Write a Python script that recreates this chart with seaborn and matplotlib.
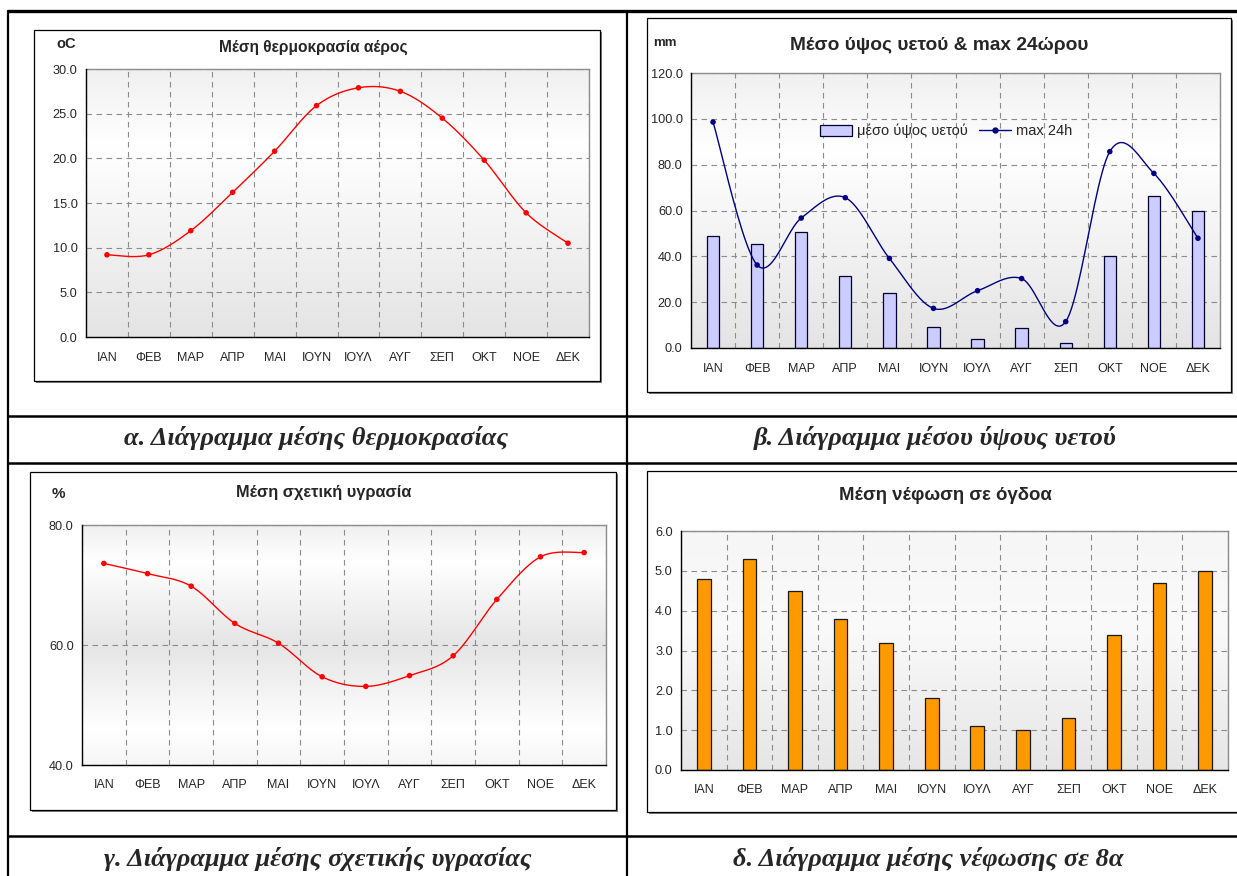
import numpy as np
import matplotlib
matplotlib.use("Agg")
import matplotlib.pyplot as plt
from matplotlib.colors import LinearSegmentedColormap
from matplotlib.patches import Rectangle
from matplotlib.lines import Line2D
import seaborn as sns

# ---- data ---------------------------------------------------------------
months = ["ΙΑΝ", "ΦΕΒ", "ΜΑΡ", "ΑΠΡ", "ΜΑΙ", "ΙΟΥΝ", "ΙΟΥΛ", "ΑΥΓ", "ΣΕΠ", "ΟΚΤ", "ΝΟΕ", "ΔΕΚ"]
temperature = [9.2, 9.2, 11.9, 16.2, 20.8, 25.9, 27.9, 27.5, 24.5, 19.8, 13.9, 10.5]
rain_mean = [48.7, 45.2, 50.6, 31.3, 24.1, 9.3, 4.1, 8.7, 2.3, 40.0, 66.5, 60.0]
rain_max24 = [98.6, 36.2, 56.7, 65.6, 39.1, 17.3, 25.0, 30.3, 11.5, 85.7, 76.2, 47.9]
humidity = [73.6, 71.9, 69.8, 63.6, 60.3, 54.7, 53.1, 54.9, 58.2, 67.6, 74.7, 75.4]
cloud = [4.8, 5.3, 4.5, 3.8, 3.2, 1.8, 1.1, 1.0, 1.3, 3.4, 4.7, 5.0]

temp_ticks = [0, 5, 10, 15, 20, 25, 30]
rain_ticks = [0, 20, 40, 60, 80, 100, 120]
hum_ticks = [40, 60, 80]
cloud_ticks = [0, 1, 2, 3, 4, 5, 6]

captions = ["α. Διάγραμμα μέσης θερμοκρασίας", "β. Διάγραμμα μέσου ύψους υετού",
            "γ. Διάγραμμα μέσης σχετικής υγρασίας", "δ. Διάγραμμα μέσης νέφωσης σε 8α"]

# ---- style ----------------------------------------------------------------
sns.set_style("white")
plt.rcParams["font.family"] = ["Liberation Sans", "DejaVu Sans"]

W, H = 1237, 876
fig = plt.figure(figsize=(W / 100, H / 100), dpi=100)
fig.patch.set_facecolor("white")


def frac_rect(l, t, r, b):
    return [l / W, 1 - b / H, (r - l) / W, (b - t) / H]


def fx(x):
    return x / W


def fy(y):
    return 1 - y / H


def smooth(values, n=24):
    """Cubic Bezier smoothing through the points (Catmull-Rom tangents)."""
    y = np.asarray(values, float)
    P = np.column_stack([np.arange(len(y), dtype=float), y])
    Pe = np.vstack([P[0], P, P[-1]])
    t = np.linspace(0, 1, n)[:, None]
    out = []
    for i in range(len(P) - 1):
        p0, p1, p2, p3 = Pe[i], Pe[i + 1], Pe[i + 2], Pe[i + 3]
        c1 = p1 + (p2 - p0) / 6
        c2 = p2 - (p3 - p1) / 6
        seg = (1 - t) ** 3 * p1 + 3 * (1 - t) ** 2 * t * c1 + 3 * (1 - t) * t ** 2 * c2 + t ** 3 * p2
        out.append(seg if i == 0 else seg[1:])
    return np.vstack(out)


def chart_box(l, t, r, b):
    shadow = Rectangle((fx(l) + 2 / W, fy(b) - 2 / H), (r - l) / W, (b - t) / H,
                       transform=fig.transFigure, facecolor="#7f7f7f", edgecolor="none", zorder=-3)
    box = Rectangle((fx(l), fy(b)), (r - l) / W, (b - t) / H, transform=fig.transFigure,
                    facecolor="white", edgecolor="black", linewidth=0.9, zorder=-2)
    fig.add_artist(shadow)
    fig.add_artist(box)


def make_axes(rect, stops):
    bg = fig.add_axes(rect)
    bg.set_zorder(-1)
    cmap = LinearSegmentedColormap.from_list("bg", stops)
    grad = np.linspace(0, 1, 256)[:, None]
    bg.imshow(grad, cmap=cmap, aspect="auto", origin="lower", extent=[0, 1, 0, 1])
    bg.set_axis_off()
    ax = fig.add_axes(rect)
    ax.set_facecolor("none")
    return ax


def style_axes(ax, ticks, fmt="{:.1f}", xlabel_pad=8):
    ax.set_xlim(-0.5, 11.5)
    ax.set_ylim(ticks[0], ticks[-1])
    ax.set_yticks(ticks)
    ax.set_yticklabels([fmt.format(v) for v in ticks], fontsize=9.2)
    ax.set_xticks(range(12))
    ax.set_xticklabels(months, fontsize=9)
    ax.set_xticks(np.arange(-0.5, 12, 1), minor=True)
    ax.tick_params(axis="x", which="major", length=0, pad=xlabel_pad)
    ax.tick_params(axis="x", which="minor", length=4, width=0.8, direction="out", color="black")
    ax.tick_params(axis="y", which="major", length=4, width=0.8, direction="out", color="black", pad=2)
    dash = (0, (5, 4))
    ax.yaxis.grid(True, which="major", linestyle=dash, color="#8c8c8c", linewidth=0.8)
    ax.xaxis.grid(True, which="minor", linestyle=dash, color="#8c8c8c", linewidth=0.8)
    ax.xaxis.grid(False, which="major")
    ax.set_axisbelow(True)
    for side in ("top", "right"):
        ax.spines[side].set_color("#8c8c8c")
        ax.spines[side].set_linewidth(1.0)
    for side in ("left", "bottom"):
        ax.spines[side].set_color("black")
        ax.spines[side].set_linewidth(1.0)
        ax.spines[side].set_zorder(5)
    ax.set_xlabel("")
    ax.set_ylabel("")


# ---- table frame -----------------------------------------------------------
def hline(y, x0=8, x1=W, lw=1.8):
    fig.add_artist(Line2D([fx(x0), fx(x1)], [fy(y), fy(y)], transform=fig.transFigure,
                          color="black", linewidth=lw, zorder=-4))


def vline(x, y0=11, y1=H, lw=1.6):
    fig.add_artist(Line2D([fx(x), fx(x)], [fy(y0), fy(y1)], transform=fig.transFigure,
                          color="black", linewidth=lw, zorder=-4))


hline(11, lw=2.4)
hline(416)
hline(463)
hline(836)
vline(8)
vline(627)

# ---- chart boxes -----------------------------------------------------------
chart_box(34, 30, 600, 381)
chart_box(647, 18, 1231, 392)
chart_box(30, 472, 616, 810)
chart_box(647, 471, 1240, 812)

gray_top = [(0.0, "#e4e4e4"), (0.72, "#ffffff"), (1.0, "#f0f0f0")]
gray_bottom = [(0.0, "#e6e6e6"), (0.6, "#fafafa"), (1.0, "#f6f6f6")]
band = [(0.0, "#f6f6f6"), (0.15, "#ffffff"), (0.5, "#e5e5e5"), (0.85, "#ffffff"), (1.0, "#f0f0f0")]

red = "#ff0000"
navy = "#000080"

# (a) mean air temperature
ax_a = make_axes(frac_rect(86, 69, 589, 337), gray_top)
sm = smooth(temperature)
sns.lineplot(x=sm[:, 0], y=sm[:, 1], sort=False, estimator=None, color=red, linewidth=1.0, ax=ax_a)
sns.scatterplot(x=np.arange(12), y=temperature, color=red, s=16, edgecolor="none", ax=ax_a, zorder=4)
style_axes(ax_a, temp_ticks, xlabel_pad=11)
fig.text(fx(313), fy(47), "Μέση θερμοκρασία αέρος", ha="center", va="center", fontsize=11.2, fontweight="bold")
fig.text(fx(66), fy(44), "oC", ha="center", va="center", fontsize=10.5, fontweight="bold")

# (b) mean precipitation and 24h maximum
ax_b = make_axes(frac_rect(691, 73, 1220, 348), gray_top)
sns.barplot(x=months, y=rain_mean, color="#ccccff", edgecolor="#000033", linewidth=0.9,
            width=0.28, saturation=1, ax=ax_b, zorder=3)
sm = smooth(rain_max24)
sns.lineplot(x=sm[:, 0], y=sm[:, 1], sort=False, estimator=None, color=navy, linewidth=1.0, ax=ax_b, zorder=4)
sns.scatterplot(x=np.arange(12), y=rain_max24, color=navy, s=16, edgecolor="none", ax=ax_b, zorder=5)
style_axes(ax_b, rain_ticks, xlabel_pad=11)
fig.text(fx(939), fy(46), "Μέσο ύψος υετού & max 24ώρου", ha="center", va="center", fontsize=13.8,
         fontweight="bold")
fig.text(fx(665), fy(43), "mm", ha="center", va="center", fontsize=9.5, fontweight="bold")
handles = [Rectangle((0, 0), 1, 1, facecolor="#ccccff", edgecolor="#000033", linewidth=0.9),
           Line2D([0], [0], color=navy, linewidth=1.0, marker="o", markersize=3.5)]
fig.legend(handles, ["μέσο ύψος υετού", "max 24h"], loc="center", bbox_to_anchor=(fx(946), fy(131)),
           ncol=2, frameon=False, fontsize=10.5, handlelength=2.2, handleheight=0.8, handletextpad=0.3,
           columnspacing=0.8, borderaxespad=0)

# (c) mean relative humidity
ax_c = make_axes(frac_rect(82, 525, 606, 765), band)
sm = smooth(humidity)
sns.lineplot(x=sm[:, 0], y=sm[:, 1], sort=False, estimator=None, color=red, linewidth=1.0, ax=ax_c)
sns.scatterplot(x=np.arange(12), y=humidity, color=red, s=16, edgecolor="none", ax=ax_c, zorder=4)
style_axes(ax_c, hum_ticks, xlabel_pad=10)
fig.text(fx(324), fy(492), "Μέση σχετική υγρασία", ha="center", va="center", fontsize=11.8, fontweight="bold")
fig.text(fx(58), fy(494), "%", ha="center", va="center", fontsize=11, fontweight="bold")

# (d) mean cloud cover in oktas
ax_d = make_axes(frac_rect(681, 531, 1228, 770), gray_bottom)
sns.barplot(x=months, y=cloud, color="#ff9900", edgecolor="#1a1a1a", linewidth=0.9,
            width=0.30, saturation=1, ax=ax_d, zorder=3)
style_axes(ax_d, cloud_ticks, xlabel_pad=10)
fig.text(fx(945), fy(496), "Μέση νέφωση σε όγδοα", ha="center", va="center", fontsize=13.4, fontweight="bold")

# ---- captions --------------------------------------------------------------
cap_font = dict(family=["Liberation Serif", "DejaVu Serif"], fontsize=19, fontweight="bold",
                fontstyle="italic", ha="center", va="center")
fig.text(fx(316), fy(438), captions[0], **cap_font)
fig.text(fx(935), fy(438), captions[1], **cap_font)
fig.text(fx(318), fy(859), captions[2], **cap_font)
fig.text(fx(928), fy(859), captions[3], **cap_font)

fig.savefig("out.png", dpi=100, facecolor="white")
